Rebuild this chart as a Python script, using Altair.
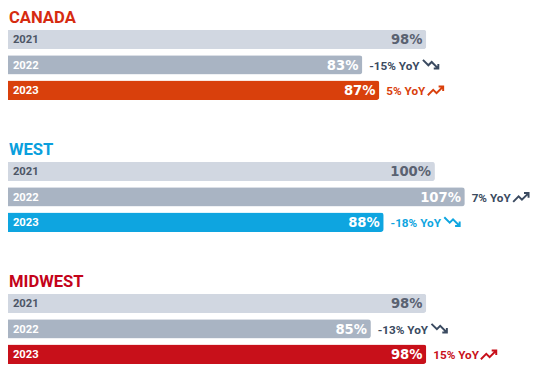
import altair as alt
import pandas as pd

groups = ["CANADA", "WEST", "MIDWEST"]
years = ["2021", "2022", "2023"]
values = {
    "CANADA": [98, 83, 87],
    "WEST": [100, 107, 88],
    "MIDWEST": [98, 85, 98],
}
yoy = {
    "CANADA": [None, -15, 5],
    "WEST": [None, 7, -18],
    "MIDWEST": [None, -13, 15],
}
group_colors = {"CANADA": "#d9400c", "WEST": "#0ea5e0", "MIDWEST": "#c8101a"}
title_colors = {"CANADA": "#d62b10", "WEST": "#0a9fdd", "MIDWEST": "#c4031a"}

LIGHT = "#d1d7e1"
MID = "#a9b4c3"
DARK_TEXT = "#4d5666"
SLATE = "#3a4a60"

XMAX = 120
W = 524
K = W / XMAX

UP = "M -1 0.6 L -0.35 -0.05 L 0.05 0.35 L 0.85 -0.45 M 0.3 -0.45 L 0.85 -0.45 L 0.85 0.1"
DOWN = "M -1 -0.6 L -0.35 0.05 L 0.05 -0.35 L 0.85 0.45 M 0.3 0.45 L 0.85 0.45 L 0.85 -0.1"


def panel(g):
    rows = []
    for yr, v, d in zip(years, values[g], yoy[g]):
        rows.append({
            "year": yr,
            "value": v,
            "label": f"{v}%",
            "yoy": f"{d}% YoY" if d is not None else "",
            "dir": ("up" if (d or 0) > 0 else "down"),
            "has": d is not None,
        })
    df = pd.DataFrame(rows)
    x = alt.X("value:Q", scale=alt.Scale(domain=[0, XMAX]), axis=None)
    y = alt.Y("year:N", sort=years, axis=None,
              scale=alt.Scale(paddingInner=0.24, paddingOuter=0.12))
    base = alt.Chart(df)
    bars = base.mark_bar(cornerRadiusTopRight=3, cornerRadiusBottomRight=3).encode(
        x=x, y=y,
        color=alt.Color("year:N", scale=alt.Scale(domain=years, range=[LIGHT, MID, group_colors[g]]), legend=None),
    )
    yr_text = base.mark_text(align="left", baseline="middle", dx=5, dy=1,
                             font="Roboto", fontWeight="bold", fontSize=11.5).encode(
        x=alt.value(0), y=y, text="year:N",
        color=alt.condition(alt.datum.year == "2021", alt.value(DARK_TEXT), alt.value("white")),
    )
    val_text = base.mark_text(align="right", baseline="middle", dx=-4, dy=1,
                              font="DejaVu Sans", fontWeight="bold", fontSize=13.5).encode(
        x=x, y=y, text="label:N",
        color=alt.condition(alt.datum.year == "2021", alt.value("#5a6271"), alt.value("white")),
    )
    yoy_col = alt.condition(alt.datum.year == "2022", alt.value(SLATE), alt.value(group_colors[g]))
    yoy_text = base.transform_filter(alt.datum.has).mark_text(
        align="left", baseline="middle", dx=7, dy=1,
        font="Roboto", fontWeight="bold", fontSize=12).encode(
        x=x, y=y, text="yoy:N", color=yoy_col,
    )
    arrows = base.transform_filter(alt.datum.has).transform_calculate(
        ax=f"datum.value + (20.5 + 6.25 * length(datum.yoy)) / {K}"
    ).mark_point(filled=False, size=289, strokeWidth=2, opacity=1).encode(
        x=alt.X("ax:Q", scale=alt.Scale(domain=[0, XMAX]), axis=None),
        y=y,
        shape=alt.Shape("dir:N", scale=alt.Scale(domain=["up", "down"], range=[UP, DOWN]), legend=None),
        stroke=yoy_col,
    )
    return alt.layer(bars, yr_text, val_text, yoy_text, arrows).properties(
        width=W, height=78,
        title=alt.TitleParams(text=g, anchor="start", color=title_colors[g], fontSize=17,
                              font="Roboto", fontWeight="bold", offset=0, dx=1),
    )


chart = alt.vconcat(*[panel(g) for g in groups], spacing=39).resolve_scale(
    color="independent"
).properties(padding={"left": 0, "top": -3, "right": 0, "bottom": 0}).configure_view(stroke=None)

chart.save("out.html", embed_options={"renderer": "svg", "actions": False})
